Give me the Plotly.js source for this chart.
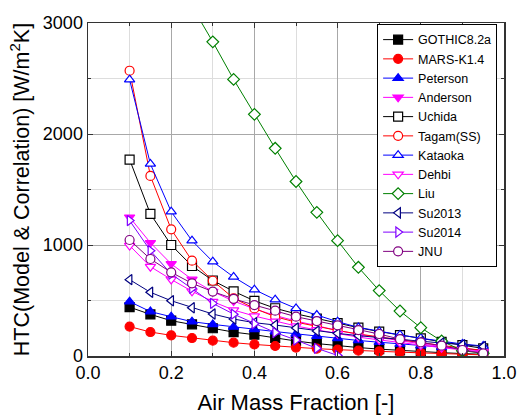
<!DOCTYPE html>
<html>
<head>
<meta charset="utf-8">
<script src="https://cdn.plot.ly/plotly-3.0.1.min.js"></script>
<style>html,body{margin:0;padding:0;background:#fff;}#chart{width:518px;height:420px;}</style>
</head>
<body>
<div id="chart"></div>
<script>
var xs = [0.1, 0.15, 0.2, 0.25, 0.3, 0.35, 0.4, 0.45, 0.5, 0.55, 0.6, 0.65, 0.7, 0.75, 0.8, 0.85, 0.9, 0.95];
var liuX = [0.25, 0.3, 0.35, 0.4, 0.45, 0.5, 0.55, 0.6, 0.65, 0.7, 0.75, 0.8, 0.85, 0.9, 0.95];
var su2014X = [0.1, 0.15, 0.2, 0.25, 0.3, 0.35, 0.4, 0.45, 0.5, 0.55, 0.6];

var gothic   = [440, 375, 318, 285, 250, 215, 192, 162, 135, 112, 92, 76, 62, 50, 40, 30, 22, 15];
var mars     = [265, 216, 186, 162, 138, 120, 104, 90, 76, 66, 57, 48, 42, 35, 28, 22, 16, 10];
var peterson = [490, 400, 354, 309, 285, 262, 240, 220, 200, 178, 158, 140, 124, 108, 94, 80, 66, 52];
var anderson = [1250, 1020, 830, 690, 580, 495, 425, 365, 315, 270, 230, 195, 165, 135, 110, 85, 62, 42];
var uchida   = [1770, 1280, 1000, 811, 680, 583, 497, 430, 380, 337, 296, 255, 220, 188, 158, 128, 98, 68];
var tagam    = [2570, 1622, 1141, 859, 678, 520, 429, 354, 305, 265, 230, 198, 170, 145, 120, 95, 72, 50];
var kataoka  = [2490, 1730, 1300, 1039, 850, 712, 598, 508, 429, 369, 309, 258, 222, 190, 160, 132, 108, 90];
var dehbi    = [995, 805, 690, 583, 490, 414, 360, 312, 270, 235, 200, 170, 145, 120, 98, 75, 55, 35];
var liu      = [3150, 2830, 2492, 2177, 1871, 1572, 1294, 1039, 799, 589, 405, 255, 135, 48, 24];
var su2013   = [688, 574, 498, 435, 378, 333, 300, 279, 252, 225, 204, 183, 165, 147, 132, 117, 102, 86];
var su2014   = [1220, 949, 739, 610, 474, 377, 291, 212, 144, 69, 5];
var jnu      = [1045, 874, 754, 655, 580, 515, 459, 408, 354, 315, 276, 234, 198, 152, 123, 93, 54, 24];

var names = ['GOTHIC8.2a','MARS-K1.4','Peterson','Anderson','Uchida','Tagam(SS)','Kataoka','Dehbi','Liu','Su2013','Su2014','JNU'];
var xTickVals = [0, 0.2, 0.4, 0.6, 0.8, 1.0];
var xTickText = ['0.0', '0.2', '0.4', '0.6', '0.8', '1.0'];
var yTickVals = [0, 1000, 2000, 3000];

function tr(name, x, y, color, symbol, filled) {
  return {
    type: 'scatter', mode: 'lines+markers', name: name, x: x, y: y,
    line: {color: color, width: 1},
    marker: {symbol: symbol, size: 9, color: filled ? color : '#ffffff',
             line: {color: color, width: 1.2}},
    cliponaxis: true
  };
}

var data = [
  tr(names[0], xs, gothic, '#000000', 'square', true),
  tr(names[1], xs, mars, '#ff0000', 'circle', true),
  tr(names[2], xs, peterson, '#0000ff', 'triangle-up', true),
  tr(names[3], xs, anderson, '#ff00ff', 'triangle-down', true),
  tr(names[4], xs, uchida, '#000000', 'square', false),
  tr(names[5], xs, tagam, '#ff0000', 'circle', false),
  tr(names[6], xs, kataoka, '#0000ff', 'triangle-up', false),
  tr(names[7], xs, dehbi, '#ff00ff', 'triangle-down', false),
  tr(names[8], liuX, liu, '#008000', 'diamond', false),
  tr(names[9], xs, su2013, '#000080', 'triangle-left', false),
  tr(names[10], su2014X, su2014, '#8000ff', 'triangle-right', false),
  tr(names[11], xs, jnu, '#800080', 'circle', false)
];

var fontFam = 'Arial, "Liberation Sans", sans-serif';

var layout = {
  width: 518, height: 420,
  margin: {l: 88, r: 14, t: 23, b: 64},
  paper_bgcolor: '#ffffff', plot_bgcolor: '#ffffff',
  font: {family: fontFam, color: '#000000'},
  showlegend: true,
  legend: {
    x: 0.695, y: 0.997, xanchor: 'left', yanchor: 'top',
    bgcolor: '#ffffff', bordercolor: '#000000', borderwidth: 1,
    font: {size: 12.5, family: fontFam}, tracegroupgap: 0, itemwidth: 30
  },
  xaxis: {
    range: [0, 1.0], tickmode: 'array', tickvals: xTickVals, ticktext: xTickText,
    ticklabeloverflow: 'allow',
    showline: true, linecolor: '#333333', linewidth: 1.5, mirror: 'ticks',
    ticks: 'inside', ticklen: 5, tickcolor: '#333333',
    showgrid: true, gridcolor: '#a8a8a8', gridwidth: 1,
    minor: {dtick: 0.1, tick0: 0, showgrid: true, gridcolor: '#dddddd', ticks: 'inside', ticklen: 3, tickcolor: '#333333'},
    zeroline: false,
    tickfont: {size: 18, family: fontFam},
    title: {text: 'Air Mass Fraction [-]', font: {size: 22, family: fontFam}, standoff: 12}
  },
  yaxis: {
    range: [0, 3000], tickmode: 'array', tickvals: yTickVals,
    showline: true, linecolor: '#333333', linewidth: 1.5, mirror: 'ticks',
    ticks: 'inside', ticklen: 5, tickcolor: '#333333',
    showgrid: true, gridcolor: '#a8a8a8', gridwidth: 1,
    minor: {dtick: 500, tick0: 0, showgrid: true, gridcolor: '#dddddd', ticks: 'inside', ticklen: 3, tickcolor: '#333333'},
    zeroline: false,
    tickfont: {size: 18, family: fontFam},
    title: {text: 'HTC(Model &amp; Correlation) [W/m<sup>2</sup>K]', font: {size: 21.5, family: fontFam}, standoff: 7}
  }
};

Plotly.newPlot('chart', data, layout, {displayModeBar: false, staticPlot: true});
</script>
</body>
</html>
